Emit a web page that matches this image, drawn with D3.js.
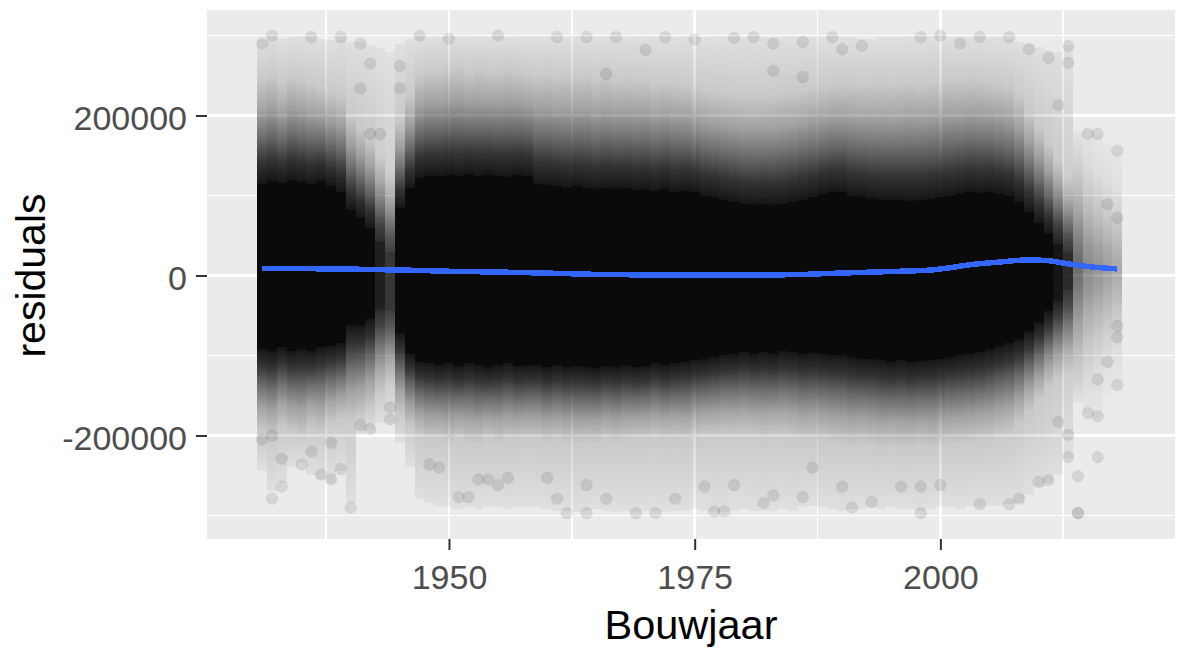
<!DOCTYPE html>
<html><head><meta charset="utf-8">
<script src="https://cdn.jsdelivr.net/npm/d3@7"></script>
<style>
html,body{margin:0;padding:0;background:#fff;}
svg{display:block;font-family:"Liberation Sans",Arial,sans-serif;}
</style></head><body>
<svg id="chart" width="1177" height="650"></svg>
<script>
// Residuals by construction year: a dense cloud of semi-transparent points
// (alpha ~0.1), summarised per year as bands, plus the sparse outer points.

const firstYear = 1931;
const lastYear = 2018;

// Per-year band edges, residuals in thousands
// solid black core of overlapping points
const coreTop = [115,118,116,120,117,115,118,112,
  105,82,72,60,42,30,85,110,
  122,125,124,126,125,127,124,126,125,123,126,124,
  115,113,112,110,112,110,108,110,108,110,107,108,106,108,105,106,104,
  100,98,95,92,90,88,90,88,90,92,95,98,
  102,104,105,100,98,
  96,95,94,95,93,95,96,
  98,100,102,104,103,104,102,100,
  92,80,66,52,40,28,
  12,10,10,10,10];
const coreBot = [-92,-95,-90,-94,-92,-95,-90,-88,
  -85,-62,-62,-55,-42,-45,-72,-98,
  -108,-110,-112,-110,-113,-110,-112,-115,-112,-110,-113,-112,
  -112,-114,-112,-115,-113,-114,-116,-113,-115,-112,-114,-113,-110,-112,-110,-108,-106,
  -104,-102,-100,-98,-96,-98,-96,-98,-95,-96,-98,-97,
  -98,-100,-100,-102,-104,
  -105,-106,-108,-106,-108,-107,-106,
  -104,-102,-100,-98,-96,-92,-88,-85,
  -80,-70,-58,-44,-32,-18,
  12,10,10,10,10];
// edge of the grey fringe, where points become sparse
const denseTop = [245,250,240,248,245,240,235,230,
  225,200,185,170,150,130,195,225,
  250,255,255,258,260,255,258,256,255,258,255,252,
  250,252,248,250,248,250,245,248,245,246,244,245,240,242,240,238,236,
  232,230,228,226,225,224,225,226,228,230,232,234,
  236,238,240,240,238,
  238,240,238,240,242,240,242,
  242,244,245,246,244,242,240,236,
  225,205,185,165,145,125,
  150,140,130,120,110];
const denseBot = [-195,-200,-190,-195,-200,-190,-195,-185,
  -180,-180,-175,-165,-150,-140,-175,-190,
  -200,-205,-205,-208,-205,-208,-210,-205,-208,-205,-206,-205,
  -205,-208,-206,-208,-210,-208,-210,-206,-208,-206,-205,-204,-202,-205,-203,-204,-202,
  -200,-200,-198,-200,-198,-200,-202,-200,-200,-202,-204,-205,
  -206,-208,-210,-212,-210,
  -212,-214,-212,-215,-214,-212,-214,
  -212,-210,-210,-208,-206,-204,-200,-196,
  -185,-170,-155,-140,-130,-125,
  -140,-130,-120,-110,-100];
// outermost extent of the scattered points
const sparseTop = [295,300,296,298,300,298,296,294,
  298,292,292,288,285,280,290,296,
  300,298,298,300,298,298,300,298,300,298,298,300,
  298,300,298,298,300,298,298,300,298,298,300,298,300,298,298,300,298,
  298,298,300,298,298,300,298,298,298,300,298,298,
  298,300,298,298,296,
  296,298,298,298,300,298,300,
  300,298,298,298,300,298,298,296,
  292,290,286,282,280,288,
  180,182,178,165,160];
const sparseBot = [-245,-270,-260,-240,-235,-250,-255,-260,
  -245,-285,-200,-195,-185,-185,-210,-240,
  -280,-285,-288,-290,-292,-290,-292,-288,-290,-292,-290,-290,
  -290,-292,-295,-294,-296,-294,-292,-295,-296,-294,-296,-295,-294,-296,-295,-294,-292,
  -294,-296,-296,-294,-292,-294,-295,-294,-292,-294,-290,-288,
  -290,-292,-294,-292,-292,
  -290,-292,-290,-292,-292,-294,-292,
  -290,-290,-292,-288,-290,-288,-288,-286,
  -285,-275,-265,-260,-250,-230,
  -160,-175,-180,-150,-140];
// relative number of observations per year (thin years render lighter)
const density = [1,1,1,1,1,1,1,1,1,1,1,1,
  0.9,0.8,
  1,1,1,1,1,1,1,1,1,1,
  1,1,1,1,1,1,1,1,1,1,
  1,1,1,1,1,1,1,1,1,1,
  1,1,1,1,1,1,1,1,1,1,
  1,1,1,1,1,1,1,1,1,1,
  1,1,1,1,1,1,1,1,1,1,
  1,1,1,1,1,1,1,
  0.95,0.85,
  0.6,0.45,0.4,0.35,0.3];

// Individually visible outer points: year and residual
const outlierYear = [1932,1933,1933,1935,1936,1937,1938,1939,1940,1931,1932,1938,1948,1949,1951,1952,1953,1954,1955,1956,
  1931,1932,1936,1939,1941,1947,1950,1955,
  1941,1942,1943,1942,1945,1945,1944,1944,1942,1941,
  1961,1962,1964,1964,1960,1966,1969,1971,1973,1976,1977,1978,1979,1982,1983,1986,1987,1990,1991,
  1961,1964,1967,1972,1975,1979,1981,1983,1986,1989,1990,1970,1966,1983,1986,
  2014,2014,2016,2016,2018,2014,2013,2018,2018,2018,2018,2017,2016,2015,2013,2013,2012,2011,2017,2016,2015,2012,2013,2011,2010,2008,2007,2004,2000,1998,1996,1993,1998,
  1992,1998,2000,2002,2004,2007,2009];
const outlierValue = [-279000,-264000,-229000,-236000,-220000,-249000,-255000,-242000,-290000,-205000,-200000,-209000,-236000,-240000,-277000,-277000,-255000,-255000,-262000,-253000,
  290000,300000,298000,298000,290000,300000,296000,300000,
  234000,265000,177000,177000,262000,234000,-165000,-180000,-192000,-187000,
  -279000,-297000,-297000,-262000,-253000,-279000,-297000,-297000,-279000,-264000,-295000,-295000,-262000,-284000,-275000,-277000,-240000,-264000,-290000,
  298000,298000,298000,298000,295000,297000,298000,290000,292000,298000,283000,282000,252000,256000,248000,
  -297000,-297000,-227000,-176000,-137000,-251000,-227000,-77000,-63000,72000,156000,89000,177000,177000,287000,266000,213000,272000,-108000,-130000,-172000,-183000,-199000,-256000,-258000,-279000,-286000,-286000,-262000,-264000,-264000,-283000,-297000,
  287000,298000,300000,290000,298000,298000,283000];

// Smoothed conditional mean
const smoothYear = [1931,1935,1940,1946,1950,1955,1960,1965,1970,1975,1980,1985,1989,1995,1999,2001,2003,2006,2009,2011,2013,2015,2018];
const smoothValue = [8800,8600,8000,6600,5300,4300,3000,1400,700,500,500,1000,2700,5000,6800,9800,13400,16800,19500,18500,14500,11200,8200];

// Axes
const xTicks = [1950, 1975, 2000];
const xMinor = [1937.5, 1962.5, 1987.5, 2012.5];
const yTicks = [-200000, 0, 200000];
const yMinor = [-300000, -100000, 100000, 300000];
const xTitle = "Bouwjaar";
const yTitle = "residuals";

const panel = {left: 207, right: 1175, top: 10, bottom: 539};
const x = d3.scaleLinear().domain([1925.38, 2023.87]).range([panel.left, panel.right]);
const y = d3.scaleLinear().domain([-329400, 331900]).range([panel.bottom, panel.top]);

const svg = d3.select("#chart");
const defs = svg.append("defs");
defs.append("clipPath").attr("id", "panel-clip").append("rect")
  .attr("x", panel.left).attr("y", panel.top)
  .attr("width", panel.right - panel.left).attr("height", panel.bottom - panel.top);

function gradient(id, up, stops) {
  const g = defs.append("linearGradient").attr("id", id)
    .attr("x1", 0).attr("x2", 0)
    .attr("y1", up ? 1 : 0).attr("y2", up ? 0 : 1);
  stops.forEach(([o, a]) => g.append("stop").attr("offset", o)
    .attr("stop-color", "#0a0a0a").attr("stop-opacity", a));
}
const fringeStops = [[0, 0.95], [0.2, 0.82], [0.45, 0.56], [0.7, 0.33], [1, 0.15]];
const sparseStops = [[0, 0.15], [0.5, 0.1], [1, 0.05]];
gradient("fringe-up", true, fringeStops);
gradient("fringe-down", false, fringeStops);
gradient("sparse-up", true, sparseStops);
gradient("sparse-down", false, sparseStops);

// panel background and grid
svg.append("rect").attr("x", panel.left).attr("y", panel.top)
  .attr("width", panel.right - panel.left).attr("height", panel.bottom - panel.top)
  .attr("fill", "#ebebeb");
const grid = svg.append("g").attr("stroke", "#fff").attr("shape-rendering", "crispEdges");
grid.selectAll(".xmin").data(xMinor).join("line")
  .attr("x1", d => x(d)).attr("x2", d => x(d)).attr("y1", panel.top).attr("y2", panel.bottom)
  .attr("stroke-width", 1.8);
grid.selectAll(".ymin").data(yMinor).join("line")
  .attr("y1", d => y(d)).attr("y2", d => y(d)).attr("x1", panel.left).attr("x2", panel.right)
  .attr("stroke-width", 1.8);
grid.selectAll(".xmaj").data(xTicks).join("line")
  .attr("x1", d => x(d)).attr("x2", d => x(d)).attr("y1", panel.top).attr("y2", panel.bottom)
  .attr("stroke-width", 2.6);
grid.selectAll(".ymaj").data(yTicks).join("line")
  .attr("y1", d => y(d)).attr("y2", d => y(d)).attr("x1", panel.left).attr("x2", panel.right)
  .attr("stroke-width", 2.6);

// point cloud, one column per year
const cols = d3.range(firstYear, lastYear + 1).map((yr, i) => ({
  yr, core: [coreBot[i] * 1000, coreTop[i] * 1000],
  dense: [denseBot[i] * 1000, denseTop[i] * 1000],
  sparse: [sparseBot[i] * 1000, sparseTop[i] * 1000],
  w: density[i]
}));
const cloud = svg.append("g").attr("clip-path", "url(#panel-clip)");
const colG = cloud.selectAll("g.col").data(cols).join("g").attr("class", "col")
  .attr("opacity", d => d.w);
// snap column edges and band edges to whole pixels so neighbours meet without seams
const px = v => Math.round(v);
const x0 = d => px(x(d.yr - 0.5)), cw = d => px(x(d.yr + 0.5)) - px(x(d.yr - 0.5));
function band(sel, lo, hi, fill) {
  sel.append("rect").attr("x", x0).attr("width", cw)
    .attr("y", d => px(y(hi(d)))).attr("height", d => Math.max(0, px(y(lo(d))) - px(y(hi(d)))))
    .attr("fill", fill).attr("shape-rendering", "crispEdges");
}
band(colG, d => d.dense[1], d => d.sparse[1], "url(#sparse-up)");
band(colG, d => d.sparse[0], d => d.dense[0], "url(#sparse-down)");
band(colG, d => d.core[1], d => d.dense[1], "url(#fringe-up)");
band(colG, d => d.dense[0], d => d.core[0], "url(#fringe-down)");
band(colG, d => d.core[0], d => d.core[1], "#0a0a0a");

cloud.selectAll("circle.out").data(outlierYear.map((yr, i) => [yr, outlierValue[i]]))
  .join("circle").attr("class", "out")
  .attr("cx", d => x(d[0])).attr("cy", d => y(d[1])).attr("r", 5.8)
  .attr("fill", "#000").attr("fill-opacity", 0.09)
  .attr("stroke", "#000").attr("stroke-opacity", 0.05).attr("stroke-width", 1);

// smooth line
const line = d3.line().x(d => x(d[0])).y(d => y(d[1])).curve(d3.curveMonotoneX);
cloud.append("path").datum(smoothYear.map((yr, i) => [yr, smoothValue[i]]))
  .attr("d", line).attr("fill", "none").attr("stroke", "#3366ff")
  .attr("stroke-width", 5.5).attr("shape-rendering", "crispEdges");

// axes
const xAxis = svg.append("g").attr("transform", `translate(0,${panel.bottom})`)
  .call(d3.axisBottom(x).tickValues(xTicks).tickSize(11).tickPadding(15).tickFormat(d => String(d)));
const yAxis = svg.append("g").attr("transform", `translate(${panel.left},0)`)
  .call(d3.axisLeft(y).tickValues(yTicks).tickSize(11).tickPadding(9).tickFormat(d => String(d)));
[xAxis, yAxis].forEach(a => {
  a.select(".domain").remove();
  a.selectAll(".tick line").attr("stroke", "#333").attr("stroke-width", 2);
  a.selectAll(".tick text").attr("fill", "#4d4d4d").attr("font-size", "34px")
    .attr("font-family", "'Liberation Sans', Arial, sans-serif");
});
yAxis.selectAll(".tick text").attr("dy", "0.4em");

svg.append("text").attr("x", (panel.left + panel.right) / 2).attr("y", 639)
  .attr("text-anchor", "middle").attr("font-size", "41.5px").attr("fill", "#000").text(xTitle);
svg.append("text").attr("transform", "translate(44.5,275.5) rotate(-90)")
  .attr("text-anchor", "middle").attr("font-size", "41px").attr("fill", "#000").text(yTitle);
</script>
</body></html>
